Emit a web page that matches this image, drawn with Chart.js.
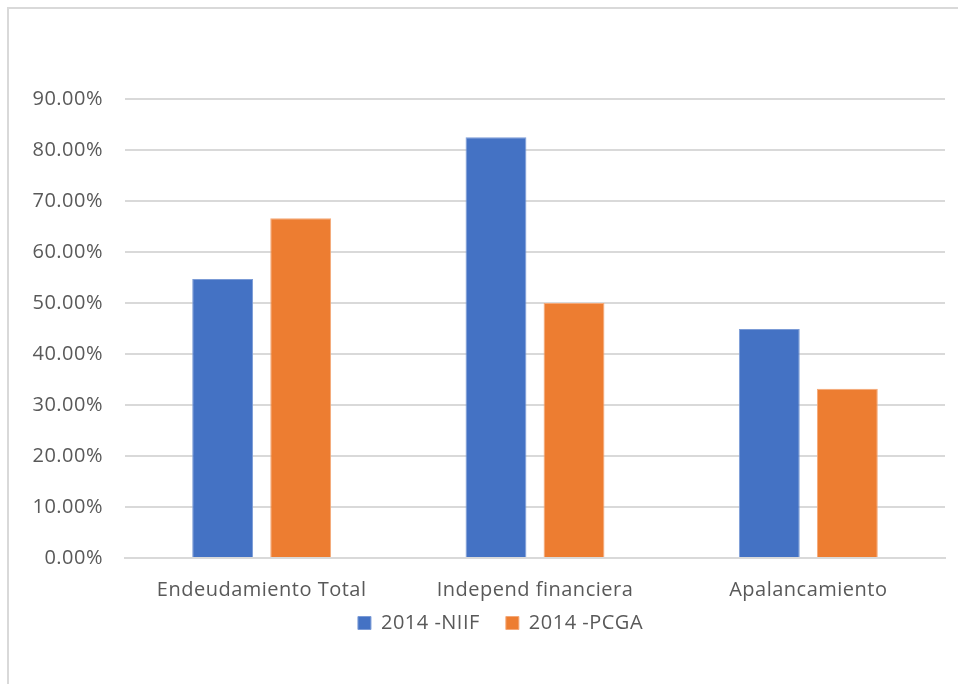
<!DOCTYPE html>
<html><head><meta charset="utf-8">
<script src="https://cdn.jsdelivr.net/npm/chart.js@4/dist/chart.umd.min.js"></script>
<style>
html,body{margin:0;padding:0;background:#fff;}
#wrap{position:absolute;left:0;top:0;width:958px;height:684px;}
#frame{position:absolute;left:7px;top:7px;width:1000px;height:700px;border-left:2px solid #d9d9d9;border-top:2px solid #d9d9d9;box-sizing:border-box;}
canvas{position:absolute;left:0;top:0;}
</style></head><body>
<div id="wrap"><div id="frame"></div><canvas id="c" width="958" height="684"></canvas></div>
<script>
const categories = ["Endeudamiento Total", "Independ financiera", "Apalancamiento"];
const seriesNames = ["2014 -NIIF", "2014 -PCGA"];
const niif = [0.547, 0.825, 0.449];
const pcga = [0.666, 0.500, 0.332];
const yTicks = [0, 0.1, 0.2, 0.3, 0.4, 0.5, 0.6, 0.7, 0.8, 0.9];

const FONT = "'Open Sans', 'Noto Sans', sans-serif";
const spacing = {
  id: 'spacing',
  beforeUpdate(chart) { chart.ctx.letterSpacing = '0.5px'; },
  beforeDraw(chart) { chart.ctx.letterSpacing = '0.5px'; }
};
const shiftLegend = {
  id: 'shiftLegend',
  afterLayout(chart) {
    const lg = chart.legend;
    if (lg) { lg.left += 22; lg.right += 22; lg.top -= 35; lg.bottom -= 35; }
  }
};
new Chart(document.getElementById('c'), {
  type: 'bar',
  data: {
    labels: categories,
    datasets: [
      {label: seriesNames[0], data: niif, backgroundColor: '#4472C4', borderColor: '#7b9bd6', borderWidth: 1},
      {label: seriesNames[1], data: pcga, backgroundColor: '#ED7D31', borderColor: '#f4a877', borderWidth: 1}
    ]
  },
  plugins: [spacing, shiftLegend],
  options: {
    responsive: false,
    animation: false,
    layout: {padding: {left: 12, right: 13, top: 99, bottom: 6}},
    datasets: {bar: {categoryPercentage: 0.571, barPercentage: 0.78}},
    plugins: {
      legend: {
        position: 'bottom',
        labels: {boxWidth: 13, boxHeight: 13, padding: 26, color: '#595959', font: {family: FONT, size: 20}}
      },
      tooltip: {enabled: false}
    },
    scales: {
      x: {
        grid: {display: false, drawTicks: false},
        border: {color: '#d9d9d9', width: 2},
        ticks: {color: '#595959', padding: 20, font: {family: FONT, size: 20}}
      },
      y: {
        min: 0, max: 0.9,
        afterFit: s => { s.width = 113; },
        afterBuildTicks: s => { s.ticks = yTicks.map(v => ({value: v})); },
        grid: {color: '#d9d9d9', lineWidth: 2, drawTicks: false},
        border: {display: false},
        ticks: {color: '#595959', padding: 22, font: {family: FONT, size: 20},
          callback: v => (v * 100).toFixed(2) + '%'}
      }
    }
  }
});
</script></body></html>
